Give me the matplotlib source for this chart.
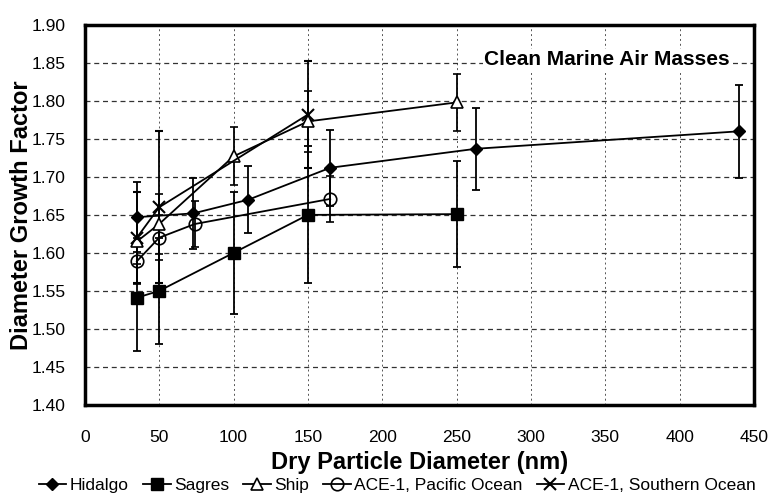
import matplotlib.pyplot as plt
from matplotlib.lines import Line2D

# Hidalgo
hid_x = [35, 73, 110, 165, 263, 440]
hid_y = [1.647, 1.652, 1.670, 1.712, 1.737, 1.760]
hid_e = [0.046, 0.047, 0.044, 0.050, 0.054, 0.061]
# Sagres
sag_x = [35, 50, 100, 150, 250]
sag_y = [1.541, 1.550, 1.600, 1.650, 1.651]
sag_e = [0.070, 0.070, 0.080, 0.090, 0.070]
# Ship
shp_x = [35, 50, 100, 150, 250]
shp_y = [1.615, 1.638, 1.727, 1.773, 1.798]
shp_e = [0.030, 0.040, 0.038, 0.040, 0.037]
# ACE-1 Pacific
pac_x = [35, 50, 74, 165]
pac_y = [1.589, 1.620, 1.638, 1.671]
pac_e = [0.030, 0.030, 0.030, 0.030]
# ACE-1 Southern
sou_x = [35, 50, 150]
sou_y = [1.620, 1.660, 1.782]
sou_e = [0.060, 0.100, 0.070]

plt.rcParams['font.family'] = ['Liberation Sans', 'DejaVu Sans']

fig = plt.figure(figsize=(7.71, 4.98), dpi=100)
ax = fig.add_axes([0.110, 0.187, 0.868, 0.763])

common = dict(color='black', lw=1.3, capsize=2.7, elinewidth=1.3, capthick=1.3, ecolor='black')
styles = [
    dict(marker='D', ms=6, mfc='black', mec='black'),
    dict(marker='s', ms=8, mfc='black', mec='black'),
    dict(marker='^', ms=9, mfc='white', mec='black', mew=1.2),
    dict(marker='o', ms=9, mfc='none', mec='black', mew=1.2),
    dict(marker='x', ms=9, mec='black', mew=1.5),
]
names = ['Hidalgo', 'Sagres', 'Ship', 'ACE-1, Pacific Ocean', 'ACE-1, Southern Ocean']
series = [(hid_x, hid_y, hid_e), (sag_x, sag_y, sag_e), (shp_x, shp_y, shp_e),
          (pac_x, pac_y, pac_e), (sou_x, sou_y, sou_e)]

handles = []
for (x, y, e), st, nm in zip(series, styles, names):
    ax.errorbar(x, y, yerr=e, **st, **common)
    handles.append(Line2D([], [], color='black', lw=1.3, label=nm, **st))

ax.set_xlim(0, 450)
ax.set_ylim(1.40, 1.90)
ax.set_xticks(range(0, 451, 50))
ax.set_yticks([1.40 + 0.05 * i for i in range(11)])
ax.set_yticklabels([f"{1.40 + 0.05 * i:.2f}" for i in range(11)])
ax.tick_params(axis='x', length=0, labelsize=12.5, pad=18)
ax.tick_params(axis='y', length=0, labelsize=12.5, pad=14)

ax.yaxis.grid(True, linestyle=(0, (4, 3)), color='#333333', lw=0.9)
ax.xaxis.grid(True, linestyle=(0, (2, 3)), color='#555555', lw=0.7)
ax.set_axisbelow(True)
for s in ax.spines.values():
    s.set_linewidth(2.5)

ax.set_xlabel("Dry Particle Diameter (nm)", fontsize=17, fontweight='bold')
ax.set_ylabel("Diameter Growth Factor", fontsize=17, fontweight='bold')
ax.xaxis.set_label_coords(0.5, -0.122)
ax.yaxis.set_label_coords(-0.077, 0.5)

ax.text(0.78, 0.908, "Clean Marine Air Masses", transform=ax.transAxes, ha='center', va='center',
        fontsize=15, fontweight='bold', bbox=dict(facecolor='white', edgecolor='none', pad=1))

fig.legend(handles=handles, loc='center', bbox_to_anchor=(0.515, 0.026), ncol=5, frameon=False,
           handlelength=1.6, handletextpad=0.2, columnspacing=0.8,
           prop={'family': ['Liberation Sans Narrow', 'Liberation Sans'], 'size': 12.5})

fig.savefig("out.png", dpi=100)
